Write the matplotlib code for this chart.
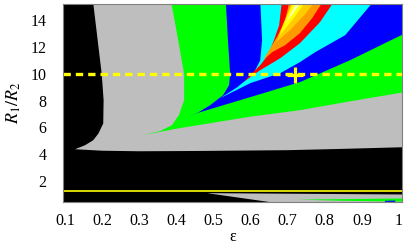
import matplotlib
matplotlib.use('Agg')
import matplotlib.pyplot as plt

plt.rcParams['font.family'] = ['Liberation Serif', 'DejaVu Serif']
plt.rcParams['mathtext.fontset'] = 'stix'

# region borders, (eps, R1/R2) pairs
gray_eps = [0.127, 0.154, 0.176, 0.190, 0.203, 0.204, 0.199, 0.175,
            1.01, 1.01, 0.85, 0.70, 0.45, 0.30, 0.20, 0.127]
gray_r = [4.37, 4.67, 5.04, 5.54, 6.29, 8.03, 9.96, 15.5,
          15.5, 4.52, 4.40, 4.30, 4.24, 4.22, 4.26, 4.37]

green_eps = [0.385, 0.405, 0.421, 0.421, 0.407, 0.388, 0.356, 0.310, 0.40, 0.491, 0.60, 0.733, 0.87, 1.01, 1.01]
green_r = [15.5, 12.5, 9.96, 8.03, 6.91, 6.16, 5.72, 5.42, 5.90, 6.31, 6.80, 7.28, 7.95, 8.60, 15.5]

blue_eps = [0.533, 0.539, 0.545, 0.542, 0.526, 0.491, 0.456, 0.429, 0.464, 0.599, 0.733, 0.868, 1.01, 1.01]
blue_r = [15.5, 12.5, 9.96, 9.14, 8.40, 7.65, 7.06, 6.76, 7.13, 8.25, 9.37, 11.0, 12.92, 15.5]

cyan_eps = [0.626, 0.631, 0.626, 0.607, 0.564, 0.518, 0.599, 0.680, 0.733, 0.774, 0.855, 0.935]
cyan_r = [15.5, 12.5, 11.0, 9.96, 8.99, 8.17, 9.29, 10.04, 10.86, 11.60, 12.87, 15.5]

red_eps = [0.685, 0.677, 0.663, 0.647, 0.626, 0.599, 0.580, 0.626, 0.680, 0.733, 0.787, 0.828]
red_r = [15.5, 13.61, 12.50, 11.38, 10.63, 9.89, 9.37, 10.26, 11.15, 12.27, 13.84, 15.5]

orange_eps = [0.706, 0.693, 0.674, 0.653, 0.634, 0.658, 0.693, 0.733, 0.766, 0.798]
orange_r = [15.5, 13.99, 12.87, 11.90, 11.01, 11.60, 12.12, 13.02, 14.14, 15.5]

gold_eps = [0.715, 0.690, 0.669, 0.706, 0.747, 0.777]
gold_r = [15.5, 13.84, 12.35, 13.24, 14.43, 15.5]

yellow_eps = [0.717, 0.696, 0.677, 0.720, 0.752]
yellow_r = [15.5, 14.14, 12.79, 14.28, 15.5]

pale_eps = [0.728, 0.693, 0.742]
pale_r = [15.5, 13.69, 15.5]

# strip under the solid line
low_gray_eps = [0.483, 1.01, 1.01, 0.686]
low_gray_r = [1.10, 1.00, 0.30, 0.30]
low_green_eps = [0.725, 1.01, 1.01, 0.85]
low_green_r = [0.62, 0.70, 0.47, 0.53]
low_blue_eps = [0.962, 0.99, 0.99, 0.962]
low_blue_r = [0.53, 0.55, 0.45, 0.45]

dashed_r = 10.0
solid_r = 1.28
marker_eps, marker_r = 0.72, 9.88

xticks = [0.1, 0.2, 0.3, 0.4, 0.5, 0.6, 0.7, 0.8, 0.9, 1.0]
xticklabels = ['0.1', '0.2', '0.3', '0.4', '0.5', '0.6', '0.7', '0.8', '0.9', '1']
yticks = [2, 4, 6, 8, 10, 12, 14]

fig = plt.figure(figsize=(4.11, 2.45), dpi=100)
ax = fig.add_axes([63 / 411, 1 - 202 / 245, 339 / 411, 198 / 245])
ax.set_facecolor('black')

layers = [(gray_eps, gray_r, '#bebebe'),
          (green_eps, green_r, '#00ff00'),
          (blue_eps, blue_r, '#0000ff'),
          (cyan_eps, cyan_r, '#00ffff'),
          (red_eps, red_r, '#ff0000'),
          (orange_eps, orange_r, '#ff9900'),
          (gold_eps, gold_r, '#ffcc00'),
          (yellow_eps, yellow_r, '#ffff00'),
          (pale_eps, pale_r, '#ffffb0'),
          (low_gray_eps, low_gray_r, '#bebebe'),
          (low_green_eps, low_green_r, '#00ff00'),
          (low_blue_eps, low_blue_r, '#0000ff')]
for xs, ys, c in layers:
    ax.fill(xs, ys, color=c, lw=0)

ax.axhline(dashed_r, color='#ffff00', lw=2.4, dashes=(2.2, 1.5))
ax.axhline(solid_r, color='#ffff00', lw=1.2)
ax.plot([marker_eps], [marker_r], marker='+', color='#ffff00', ms=12, mew=2.3)

ax.set_xlim(0.0946, 1.008)
ax.set_ylim(0.44, 15.19)
ax.set_xticks(xticks)
ax.set_xticklabels(xticklabels)
ax.set_yticks(yticks)
ax.tick_params(length=0, labelsize=11.5)
ax.tick_params(axis='x', pad=8)
ax.tick_params(axis='y', pad=12)
for s in ax.spines.values():
    s.set_color('#808080')
ax.set_xlabel('ε', fontsize=11.5, labelpad=0)
ax.set_ylabel('$R_1/R_2$', fontsize=13, labelpad=5)

fig.savefig('out.png', dpi=100)
